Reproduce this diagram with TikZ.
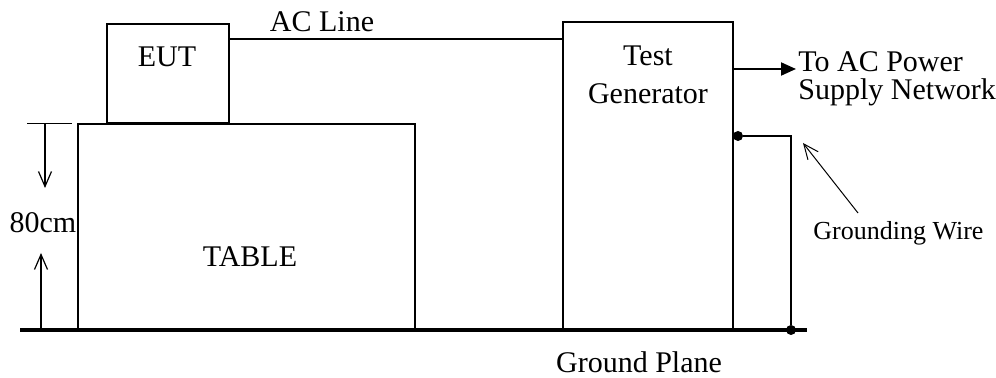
\documentclass[tikz,border=0pt]{standalone}
\usepackage{fontspec}
\setmainfont{Liberation Serif}
\usetikzlibrary{arrows.meta,positioning}

\begin{document}
\begin{tikzpicture}[x=0.5pt, y=-0.5pt,
    box/.style={draw=black, line width=1pt, inner sep=0pt},
    lbl/.style={font=\fontsize{15}{19}\selectfont, inner sep=0pt},
    smalllbl/.style={font=\fontsize{13}{16}\selectfont, inner sep=0pt},
    wire/.style={line width=1pt},
    thinline/.style={line width=0.5pt},
    dimarrow/.style={line width=0.6pt, -{Straight Barb[length=7.5pt, width=6.5pt]}},
    pwrarrow/.style={line width=1pt, -{Triangle[length=7.5pt, width=6.5pt]}},
    dot/.style={circle, fill=black, inner sep=0pt, minimum size=5pt},
    ground/.style={line width=2.4pt}
]
\useasboundingbox (0,0) rectangle (996,378);
% EUT on the table
\node[box, minimum width=61pt, minimum height=49.5pt] (eut) at (168,73.5) {};
\node[lbl] (eutlbl) at (167,57) {EUT};
\node[box, minimum width=168.5pt, minimum height=103pt] (table) at (246.5,227) {};
\node[lbl] (tablelbl) at (250,257) {TABLE};
% Test generator
\node[box, minimum width=85pt, minimum height=154pt] (tg) at (648,176) {};
\node[lbl, align=center] (tglbl) at (648,75) {Test\\Generator};
% AC line
\draw[wire] ([yshift=-8pt]eut.north east) coordinate (acL) -- (acL -| tg.west);
\node[lbl] (aclbl) at (322,22) {AC Line};
% supply
\draw[pwrarrow] ([yshift=-24pt]tg.north east) coordinate (pwr) -- ++(62,0) coordinate (pwrend);
\node[lbl, font=\fontsize{15}{14}\selectfont, align=left, anchor=west] (supply) at (798,79) {To AC Power\\Supply Network};
% grounding wire
\node[dot] (gdot1) at (738,136) {};
\node[dot] (gdot2) at (791,330) {};
\draw[wire] (gdot1) -| (gdot2);
\coordinate (gwtail) at (858,213);
\coordinate (gwtip) at (803,143);
\draw[thinline, -{Straight Barb[length=7.5pt, width=6.5pt]}] (gwtail) -- (gwtip);
\node[smalllbl, anchor=base west] (gwlbl) at (813,240) {Grounding Wire};
% 80cm height
\coordinate (tickL) at (27,124);
\coordinate (tickR) at (72,124);
\draw[thinline] (tickL) -- (tickR);
\draw[dimarrow] (45,124) -- (45,188);
\draw[dimarrow] (41,329) -- (41,253);
\node[lbl] (dimlbl) at (43,223) {80cm};
% ground plane
\coordinate (gpL) at (20,330);
\coordinate (gpR) at (807,330);
\draw[ground] (gpL) -- (gpR);
\node[lbl] (gplbl) at (639,362) {Ground Plane};
\end{tikzpicture}
\end{document}
